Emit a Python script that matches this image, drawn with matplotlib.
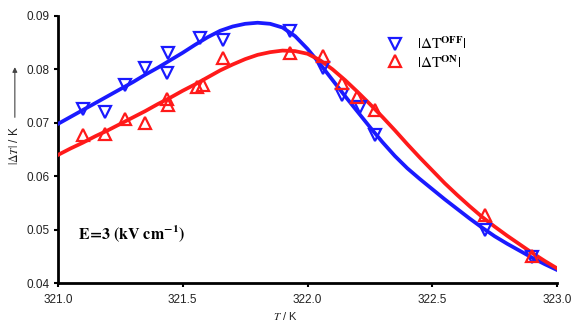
import matplotlib
matplotlib.use('Agg')
import matplotlib.pyplot as plt

# measured points
t_off = [321.10, 321.19, 321.27, 321.35, 321.435, 321.44, 321.57, 321.66,
         321.93, 322.06, 322.14, 322.21, 322.27, 322.71, 322.90]
dt_off = [0.0726, 0.0721, 0.0770, 0.0802, 0.0794, 0.0830, 0.0858, 0.0855,
          0.0871, 0.0803, 0.0752, 0.0730, 0.0677, 0.0500, 0.0449]

t_on = [321.10, 321.19, 321.27, 321.35, 321.435, 321.44, 321.555, 321.58,
        321.66, 321.93, 322.06, 322.14, 322.20, 322.27, 322.71, 322.90]
dt_on = [0.0677, 0.0680, 0.0707, 0.0699, 0.0745, 0.0733, 0.0767, 0.0771,
         0.0821, 0.0831, 0.0825, 0.0774, 0.0749, 0.0724, 0.0528, 0.0451]

# fitted curves, every 0.05 K
t_fit = [321.00, 321.05, 321.10, 321.15, 321.20, 321.25, 321.30, 321.35, 321.40,
         321.45, 321.50, 321.55, 321.60, 321.65, 321.70, 321.75, 321.80, 321.85,
         321.90, 321.95, 322.00, 322.05, 322.10, 322.15, 322.20, 322.25, 322.30,
         322.35, 322.40, 322.45, 322.50, 322.55, 322.60, 322.65, 322.70, 322.75,
         322.80, 322.85, 322.90, 322.95, 323.00]
fit_off = [0.0698, 0.0711, 0.0724, 0.0737, 0.0750, 0.0763, 0.0776, 0.0790, 0.0803,
           0.0817, 0.0831, 0.0846, 0.0860, 0.0872, 0.0880, 0.0885, 0.0887, 0.0885,
           0.0878, 0.0862, 0.0838, 0.0810, 0.0780, 0.0750, 0.0721, 0.0692, 0.0664,
           0.0638, 0.0615, 0.0595, 0.0576, 0.0557, 0.0539, 0.0521, 0.0504, 0.0488,
           0.0474, 0.0461, 0.0448, 0.0436, 0.0425]
fit_on = [0.0640, 0.0652, 0.0663, 0.0675, 0.0686, 0.0698, 0.0710, 0.0722, 0.0735,
          0.0747, 0.0760, 0.0772, 0.0785, 0.0798, 0.0809, 0.0819, 0.0827, 0.0832,
          0.0835, 0.0834, 0.0829, 0.0817, 0.0800, 0.0780, 0.0758, 0.0735, 0.0711,
          0.0686, 0.0660, 0.0635, 0.0611, 0.0587, 0.0565, 0.0544, 0.0524, 0.0506,
          0.0489, 0.0473, 0.0457, 0.0442, 0.0428]

plt.rcParams['font.family'] = 'sans-serif'
plt.rcParams['font.sans-serif'] = ['Liberation Sans', 'DejaVu Sans']
plt.rcParams['mathtext.fontset'] = 'stix'

blue = '#1a1aff'
red = '#ff1a1a'

fig = plt.figure(figsize=(5.71, 3.22), dpi=100)
ax = fig.add_axes([0.1016, 0.120, 0.874, 0.831])

ax.plot(t_fit, fit_off, color=blue, lw=2.7, zorder=3, solid_joinstyle='round')
ax.plot(t_fit, fit_on, color=red, lw=2.7, zorder=3, solid_joinstyle='round')
ax.plot(t_off, dt_off, linestyle='none', marker='v', ms=8, mfc='none',
        mec=blue, mew=1.6, zorder=4)
ax.plot(t_on, dt_on, linestyle='none', marker='^', ms=8, mfc='none',
        mec=red, mew=1.6, zorder=4)

ax.set_xlim(321.0, 323.0)
ax.set_ylim(0.04, 0.09)
ax.set_xticks([321.0, 321.5, 322.0, 322.5, 323.0])
ax.set_xticklabels(['321.0', '321.5', '322.0', '322.5', '323.0'])
ax.set_yticks([0.04, 0.05, 0.06, 0.07, 0.08, 0.09])
ax.set_yticklabels(['0.04', '0.05', '0.06', '0.07', '0.08', '0.09'])
ax.tick_params(labelsize=8.5, length=3, width=1.5, color='black',
               labelcolor='#222222')
ax.tick_params(axis='x', pad=5)
ax.tick_params(axis='y', pad=3)
for side in ['top', 'right']:
    ax.spines[side].set_visible(False)
for side in ['left', 'bottom']:
    ax.spines[side].set_linewidth(2)

fig.text(0.5, 0.02, r'$\mathit{T}$ / K', fontsize=8, ha='center', va='center',
         color='#222222')

# y label with arrow, in figure coords
fig.text(0.026, 0.55, r'$|\Delta\mathit{T}|$ / K', rotation=90, fontsize=8.5,
         ha='center', va='center', color='#222222')
ax.annotate('', xy=(0.026, 0.80), xycoords='figure fraction',
            xytext=(0.026, 0.627), textcoords='figure fraction',
            arrowprops=dict(arrowstyle='-|>', color='#444444', lw=0.8,
                            mutation_scale=7))

# legend
ax.plot([322.35], [0.0847], linestyle='none', marker='v', ms=8, mfc='none',
        mec=blue, mew=1.6, clip_on=False)
ax.plot([322.35], [0.0815], linestyle='none', marker='^', ms=8, mfc='none',
        mec=red, mew=1.6, clip_on=False)
ax.text(322.44, 0.0847, r'$|\Delta\mathrm{T}^{\mathbf{OFF}}|$', fontsize=11,
        va='center', ha='left')
ax.text(322.44, 0.0813, r'$|\Delta\mathrm{T}^{\mathbf{ON}}|$', fontsize=11,
        va='center', ha='left')

ax.text(321.08, 0.0493, r'$\mathbf{E\!=\!3\ (kV\ cm^{-1})}$', fontsize=11.5,
        va='center', ha='left')

fig.savefig('out.png', dpi=100)
